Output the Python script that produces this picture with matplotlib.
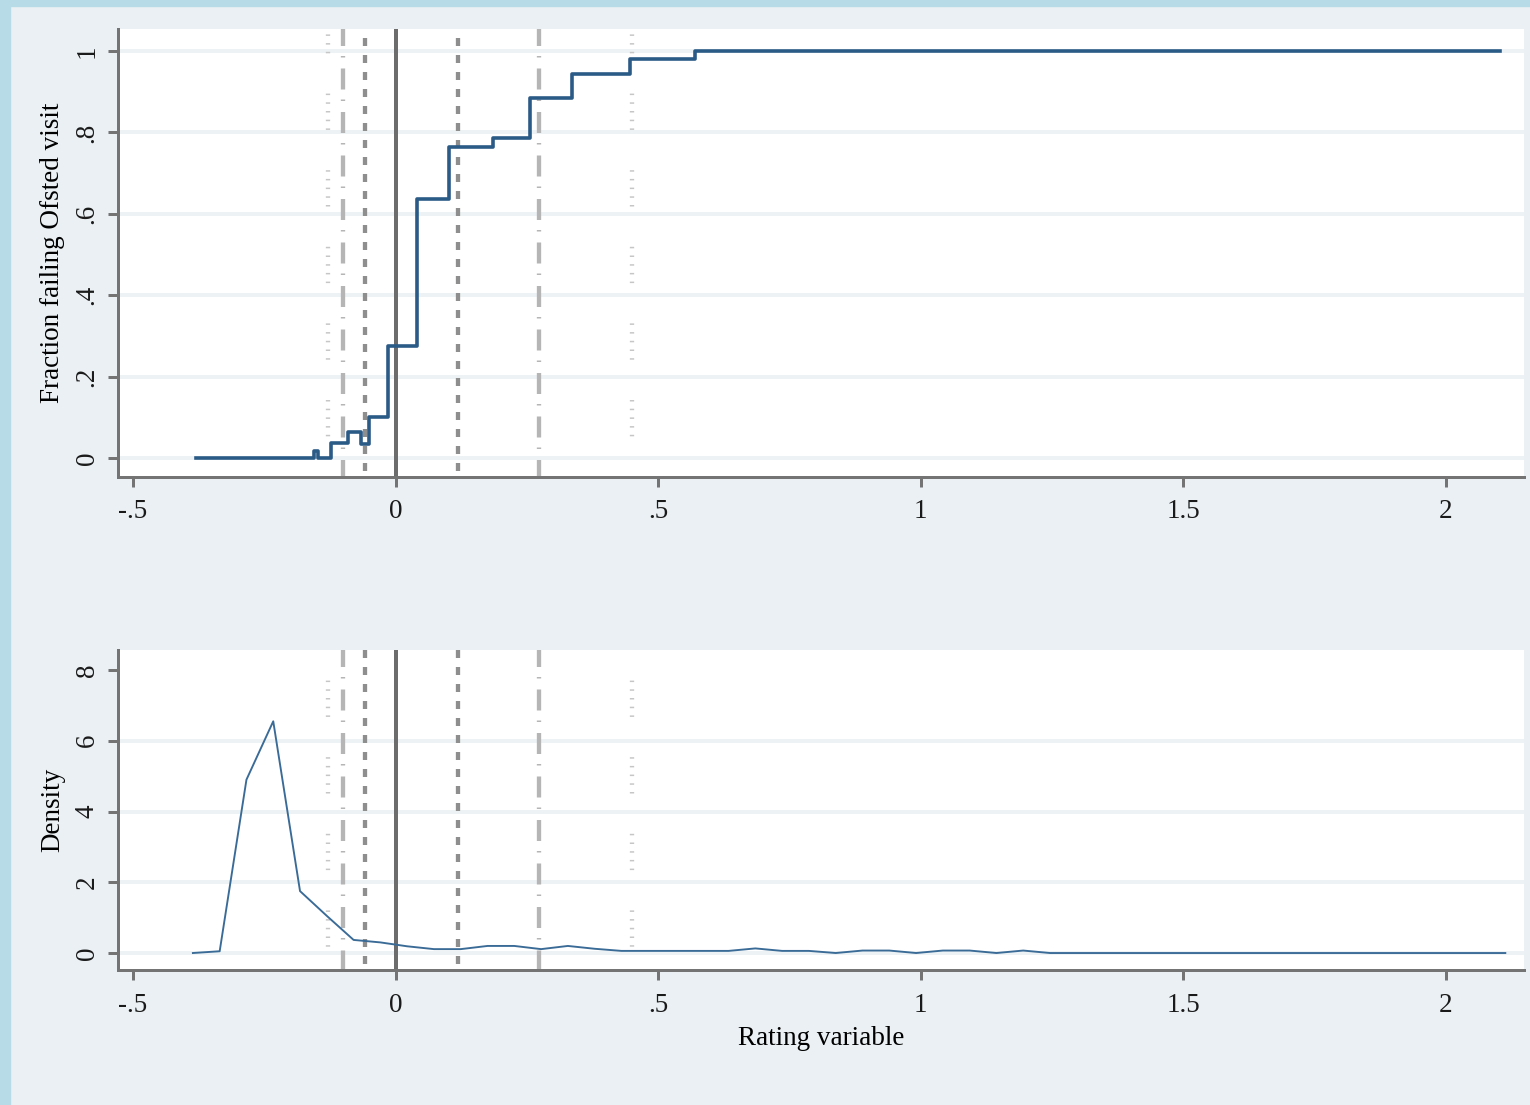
import matplotlib
matplotlib.use("Agg")
import matplotlib.pyplot as plt
from matplotlib.patches import Rectangle

plt.rcParams["font.family"] = ["Liberation Serif", "DejaVu Serif"]
plt.rcParams["lines.scale_dashes"] = False

# upper panel: step function of the fraction failing the Ofsted visit
step_x = [-0.380, -0.155, -0.148, -0.123, -0.091, -0.066, -0.051, -0.015,
          0.040, 0.102, 0.185, 0.256, 0.336, 0.446, 0.571, 2.103]
step_y = [0.0, 0.016, 0.0, 0.037, 0.063, 0.035, 0.101, 0.274,
          0.637, 0.764, 0.785, 0.884, 0.943, 0.980, 1.0, 1.0]

# lower panel: density of the rating variable
dens_x = [-0.386, -0.335, -0.284, -0.233, -0.182, -0.131, -0.080, -0.029,
          0.022, 0.073, 0.124, 0.175, 0.226, 0.277, 0.328, 0.379,
          0.430, 0.481, 0.532, 0.583, 0.634, 0.685, 0.736, 0.787,
          0.838, 0.889, 0.940, 0.991, 1.042, 1.093, 1.144, 1.195,
          1.246, 1.297, 1.348, 1.399, 1.450, 1.501, 1.552, 1.603,
          1.654, 1.705, 1.756, 1.807, 1.858, 1.909, 1.960, 2.011,
          2.062, 2.113]
dens_y = [0.0, 0.05, 4.90, 6.55, 1.75, 1.05, 0.37, 0.30,
          0.19, 0.11, 0.11, 0.20, 0.20, 0.11, 0.20, 0.12,
          0.06, 0.06, 0.06, 0.06, 0.06, 0.13, 0.06, 0.06,
          0.0, 0.07, 0.07, 0.0, 0.07, 0.07, 0.0, 0.07,
          0.0, 0.0, 0.0, 0.0, 0.0, 0.0, 0.0, 0.0,
          0.0, 0.0, 0.0, 0.0, 0.0, 0.0, 0.0, 0.0,
          0.0, 0.0]

xticks = [-0.5, 0, 0.5, 1, 1.5, 2]
xtick_labels = ["-.5", "0", ".5", "1", "1.5", "2"]
top_yticks = [0, 0.2, 0.4, 0.6, 0.8, 1]
top_ytick_labels = ["0", ".2", ".4", ".6", ".8", "1"]
bot_yticks = [0, 2, 4, 6, 8]
bot_ytick_labels = ["0", "2", "4", "6", "8"]

cut_solid = [0.0]
cut_short = [-0.0585, 0.119]
cut_dashdot = [-0.100, 0.273]
cut_dotted = [-0.1295, 0.451]

W, H = 1530, 1105
PX = 0.72  # points per pixel at dpi 100
BG = "#eaf0f3"
AXC = "#747474"
FS = 19.5

fig = plt.figure(figsize=(W / 100, H / 100), dpi=100, facecolor=BG)
fig.patches.append(Rectangle((0, 0), 10 / W, 1, transform=fig.transFigure,
                             color="#b8dce7", zorder=0))
fig.patches.append(Rectangle((0, 1 - 6 / H), 1, 6 / H, transform=fig.transFigure,
                             color="#b8dce7", zorder=0))


def frame(ax, yticks, ylabels, ylim, grid_at):
    ax.set_xlim(-0.5286, 2.1486)
    ax.set_ylim(*ylim)
    ax.set_facecolor("white")
    for s in ("top", "right"):
        ax.spines[s].set_visible(False)
    for s in ("left", "bottom"):
        ax.spines[s].set_color(AXC)
        ax.spines[s].set_linewidth(3 * PX)
    ax.set_xticks(xticks)
    ax.set_xticklabels(xtick_labels)
    ax.set_yticks(yticks)
    ax.set_yticklabels(ylabels, rotation=90, va="center")
    ax.tick_params(length=10 * PX, width=3 * PX, color=AXC, labelsize=FS,
                   labelcolor="#1a1a1a")
    ax.tick_params(axis="x", pad=9)
    ax.tick_params(axis="y", pad=6)
    for g in grid_at:
        ax.axhline(g, color="#edf2f4", lw=4 * PX, zorder=0.5)


def ref_lines(ax, off_dot, off_dd, off_short):
    tr = ax.get_xaxis_transform()
    kw = dict(transform=tr, solid_capstyle="butt", dash_capstyle="butt", zorder=1)
    for x in cut_dotted:
        dots = (1.5, 7.2, 1.5, 7.2, 1.5, 7.2, 1.5, 7.2, 1.5, 40.3)
        ax.plot([x, x], [1, 0], color="#c6c6c6", lw=4.3 * PX,
                ls=(off_dot * PX, tuple(d * PX for d in dots)), **kw)
    for x in cut_dashdot:
        ax.plot([x, x], [1, 0], color="#b5b5b5", lw=4.3 * PX,
                ls=(off_dd * PX, (21 * PX, 10 * PX, 1.5 * PX, 11 * PX)), **kw)
    for x in cut_short:
        ax.plot([x, x], [1, 0], color="#8e8e8e", lw=4.3 * PX,
                ls=(off_short * PX, (8 * PX, 9 * PX)), **kw)
    for x in cut_solid:
        ax.plot([x, x], [1, 0], color="#6c6c6c", lw=4 * PX, **kw)


# top panel: plot region 118..1524 x 29..477 px
ax1 = fig.add_axes([118 / W, 1 - 477 / H, 1406 / W, 448 / H])
frame(ax1, top_yticks, top_ytick_labels, (-0.0467, 1.054), top_yticks)
ref_lines(ax1, 12, 4, 8)
ax1.plot(step_x, step_y, drawstyle="steps-post", color="#2a5a86",
         lw=3.6 * PX, zorder=3)
ax1.set_ylabel("Fraction failing Ofsted visit", fontsize=FS, labelpad=7)

# bottom panel: plot region 118..1524 x 650..970 px
ax2 = fig.add_axes([118 / W, 1 - 970 / H, 1406 / W, 320 / H])
frame(ax2, bot_yticks, bot_ytick_labels, (-0.48, 8.565), bot_yticks[:-1])
ref_lines(ax2, 46, 4, 0)
ax2.plot(dens_x, dens_y, color="#3a6b97", lw=1.9 * PX, zorder=3)
ax2.set_ylabel("Density", fontsize=FS, labelpad=7)
ax2.set_xlabel("Rating variable", fontsize=FS, labelpad=6)

fig.savefig("out.png", dpi=100, facecolor=BG)
